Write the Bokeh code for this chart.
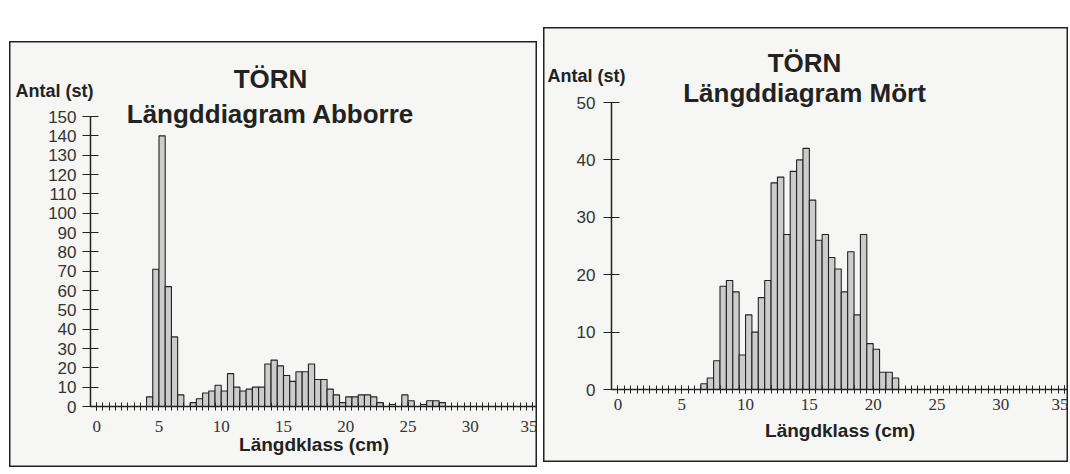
from bokeh.plotting import figure
from bokeh.models import FixedTicker, Label, Range1d
from bokeh.layouts import row
from bokeh.embed import file_html
from bokeh.resources import INLINE

# ---------------- data ----------------
# length classes (cm), start of each 0.5 cm class
bin_start_cm = [
    0.0, 0.5, 1.0, 1.5, 2.0, 2.5, 3.0, 3.5, 4.0, 4.5,
    5.0, 5.5, 6.0, 6.5, 7.0, 7.5, 8.0, 8.5, 9.0, 9.5,
    10.0, 10.5, 11.0, 11.5, 12.0, 12.5, 13.0, 13.5, 14.0, 14.5,
    15.0, 15.5, 16.0, 16.5, 17.0, 17.5, 18.0, 18.5, 19.0, 19.5,
    20.0, 20.5, 21.0, 21.5, 22.0, 22.5, 23.0, 23.5, 24.0, 24.5,
    25.0, 25.5, 26.0, 26.5, 27.0, 27.5, 28.0, 28.5, 29.0, 29.5,
    30.0, 30.5, 31.0, 31.5, 32.0, 32.5, 33.0, 33.5, 34.0, 34.5,
]
BIN_WIDTH = 0.5

# Abborre (perch), counts per class
abborre = [
    0, 0, 0, 0, 0, 0, 0, 0, 5, 71,
    140, 62, 36, 6, 0, 2, 4, 7, 8, 11,
    8, 17, 10, 8, 9, 10, 10, 22, 24, 21,
    16, 13, 18, 18, 22, 14, 14, 9, 6, 2,
    5, 5, 6, 6, 5, 2, 0, 1, 0, 6,
    3, 0, 1, 3, 3, 2, 0, 0, 0, 0,
    0, 0, 0, 0, 0, 0, 0, 0, 0, 0,
]

# Mört (roach), counts per class
mort = [
    0, 0, 0, 0, 0, 0, 0, 0, 0, 0,
    0, 0, 0, 1, 2, 5, 18, 19, 17, 6,
    13, 10, 16, 19, 36, 37, 27, 38, 40, 42,
    33, 26, 27, 23, 21, 17, 24, 13, 27, 8,
    7, 3, 3, 2, 0, 0, 0, 0, 0, 0,
    0, 0, 0, 0, 0, 0, 0, 0, 0, 0,
    0, 0, 0, 0, 0, 0, 0, 0, 0, 0,
]

x_tick_values = [0, 5, 10, 15, 20, 25, 30, 35]
abborre_y_ticks = [0, 10, 20, 30, 40, 50, 60, 70, 80, 90, 100, 110, 120, 130, 140, 150]
mort_y_ticks = [0, 10, 20, 30, 40, 50]

title_top = "TÖRN"
title_abborre = "Längddiagram Abborre"
title_mort = "Längddiagram Mört"
y_label = "Antal (st)"
x_label = "Längdklass (cm)"

# ---------------- style ----------------
SANS = "Liberation Sans"
SERIF = "Liberation Serif"
INK = "#222222"
BG = "#f6f6f4"
BAR_FILL = "#cccccc"
X_AXIS_START = -0.5


def make_panel(values, y_ticks, sub_title, W, H, ax_left, ax_top, ax_bottom, x_end,
               ytick_len, y_std, x_std, xlab_std, title_y, sub_y, title_x, ylab_x, ylab_y):
    ymax = y_ticks[-1]
    # frame covers the whole panel; axes sit at fixed locations inside it
    cm_per_px = (x_end - X_AXIS_START) / (W - ax_left)
    u_per_px = ymax / (ax_bottom - ax_top)
    xr = Range1d(X_AXIS_START - ax_left * cm_per_px, x_end)
    yr = Range1d(-(H - ax_bottom) * u_per_px, ymax + ax_top * u_per_px)

    bin_end = [b + BIN_WIDTH for b in bin_start_cm]
    p = figure(width=W, height=H, output_backend="svg", toolbar_location=None,
               x_range=xr, y_range=yr, min_border=0)
    p.title.visible = False
    p.background_fill_color = BG
    p.border_fill_color = BG
    p.outline_line_color = INK
    p.outline_line_width = 2
    p.xgrid.visible = False
    p.ygrid.visible = False

    p.quad(left=bin_start_cm, right=bin_end, bottom=0, top=values,
           fill_color=BAR_FILL, line_color=INK, line_width=1.1)

    # x axis
    xa = p.xaxis[0]
    xa.fixed_location = 0
    xa.bounds = (X_AXIS_START, x_end)
    xa.ticker = FixedTicker(ticks=x_tick_values, minor_ticks=bin_start_cm + [35.0])
    xa.axis_line_color = INK
    xa.axis_line_width = 1.5
    xa.major_tick_line_color = INK
    xa.minor_tick_line_color = INK
    xa.major_tick_in = 4
    xa.major_tick_out = 4
    xa.minor_tick_in = 4
    xa.minor_tick_out = 4
    xa.major_label_text_font = SERIF
    xa.major_label_text_font_size = "17px"
    xa.major_label_text_color = "#333333"
    xa.major_label_standoff = x_std
    xa.axis_label = x_label
    xa.axis_label_text_font = SANS
    xa.axis_label_text_font_style = "bold"
    xa.axis_label_text_font_size = "19px"
    xa.axis_label_text_color = INK
    xa.axis_label_standoff = xlab_std

    # y axis
    ya = p.yaxis[0]
    ya.fixed_location = X_AXIS_START
    ya.bounds = (0, ymax)
    ya.ticker = FixedTicker(ticks=y_ticks)
    ya.axis_line_color = INK
    ya.axis_line_width = 1.5
    ya.major_tick_line_color = INK
    ya.major_tick_in = ytick_len
    ya.major_tick_out = ytick_len
    ya.minor_tick_line_color = None
    ya.major_label_text_font = SANS
    ya.major_label_text_font_size = "17px"
    ya.major_label_text_color = "#333333"
    ya.major_label_standoff = y_std

    # titles and y label (screen units: pixels from the panel's bottom-left)
    for txt, ty in ((title_top, title_y), (sub_title, sub_y)):
        p.add_layout(Label(x=title_x, y=H - ty, x_units="screen", y_units="screen",
                           text=txt, text_align="center", text_baseline="alphabetic",
                           text_font=SANS, text_font_style="bold", text_font_size="26px",
                           text_color=INK))
    p.add_layout(Label(x=ylab_x, y=H - ylab_y, x_units="screen", y_units="screen",
                       text=y_label, text_align="left", text_baseline="alphabetic",
                       text_font=SANS, text_font_style="bold", text_font_size="18px",
                       text_color=INK))
    return p


left = make_panel(abborre, abborre_y_ticks, title_abborre, W=528, H=426,
                  ax_left=81, ax_top=75, ax_bottom=365, x_end=35.4, ytick_len=8,
                  y_std=6, x_std=10, xlab_std=-1, title_y=37, sub_y=72, title_x=261,
                  ylab_x=6, ylab_y=49)
right = make_panel(mort, mort_y_ticks, title_mort, W=525, H=435,
                   ax_left=68, ax_top=75, ax_bottom=362, x_end=35.3, ytick_len=8,
                   y_std=8, x_std=5, xlab_std=7, title_y=35, sub_y=65, title_x=261,
                   ylab_x=4, ylab_y=48)

left.margin = (41, 6, 0, 9)
right.margin = (27, 0, 0, 0)

layout = row(left, right)
open("out.html", "w").write(file_html(layout, INLINE))
